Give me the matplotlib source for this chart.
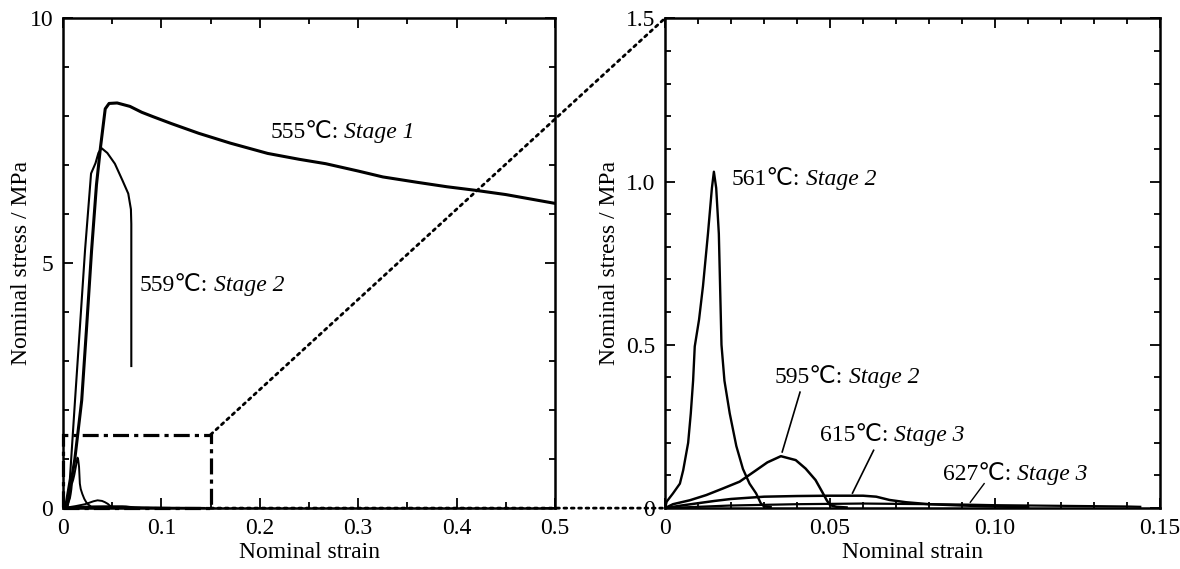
import matplotlib
matplotlib.use("Agg")
import matplotlib.pyplot as plt
from matplotlib.patches import Rectangle, ConnectionPatch
from matplotlib.ticker import MultipleLocator

plt.rcParams['font.family'] = ['Liberation Serif', 'DejaVu Sans']
plt.rcParams['font.size'] = 17

# --- данные ---
# 555°C: Stage 1
c555_x = [0.004, 0.012, 0.019, 0.024, 0.029, 0.034, 0.038, 0.0429, 0.0468, 0.055, 0.068,
          0.08, 0.0915, 0.11, 0.138, 0.17, 0.208, 0.24, 0.267, 0.3, 0.325, 0.36, 0.39,
          0.418, 0.45, 0.5]
c555_y = [0.0, 1.0, 2.2, 3.7, 5.25, 6.6, 7.35, 8.15, 8.26, 8.27, 8.2,
          8.08, 7.99, 7.85, 7.65, 7.45, 7.24, 7.12, 7.03, 6.88, 6.76, 6.65, 6.56,
          6.49, 6.4, 6.22]

# 559°C: Stage 2
c559_x = [0.002, 0.007, 0.0122, 0.0172, 0.0224, 0.0285, 0.033, 0.036, 0.039, 0.045,
          0.0527, 0.0604, 0.0663, 0.069, 0.0694, 0.0694]
c559_y = [0.0, 0.6, 2.2, 3.7, 5.27, 6.83, 7.04, 7.25, 7.35, 7.25,
          7.03, 6.69, 6.42, 6.1, 5.8, 2.9]

# 561°C: Stage 2
c561_x = [0.0, 0.0005, 0.0024, 0.0045, 0.0055, 0.007, 0.0078, 0.0085, 0.009, 0.0103,
          0.0115, 0.013, 0.0142, 0.0148, 0.0155, 0.0163, 0.0171, 0.018, 0.0196, 0.0216,
          0.0236, 0.0256, 0.0276, 0.029, 0.030, 0.032]
c561_y = [0.0, 0.02, 0.045, 0.075, 0.116, 0.2, 0.29, 0.39, 0.495, 0.577,
          0.68, 0.84, 0.98, 1.03, 0.98, 0.84, 0.5, 0.39, 0.29, 0.19,
          0.12, 0.075, 0.045, 0.015, 0.005, 0.003]

# 595°C: Stage 2
c595_x = [0.0, 0.0024, 0.0075, 0.0125, 0.0175, 0.0226, 0.0276, 0.031, 0.0351, 0.0396,
          0.0426, 0.0456, 0.0476, 0.049, 0.050, 0.052, 0.055]
c595_y = [0.0, 0.012, 0.024, 0.04, 0.06, 0.081, 0.116, 0.14, 0.159, 0.147,
          0.121, 0.086, 0.05, 0.024, 0.009, 0.004, 0.002]

# 615°C: Stage 3
c615_x = [0.0, 0.005, 0.01, 0.015, 0.02, 0.03, 0.04, 0.05, 0.06, 0.064, 0.068, 0.073,
          0.08, 0.09, 0.1, 0.11]
c615_y = [0.0, 0.008, 0.015, 0.022, 0.028, 0.035, 0.037, 0.038, 0.038, 0.035, 0.025, 0.018,
          0.012, 0.008, 0.005, 0.003]

# 627°C: Stage 3
c627_x = [0.0, 0.01, 0.02, 0.03, 0.04, 0.05, 0.06, 0.07, 0.08, 0.09, 0.1, 0.11, 0.12,
          0.13, 0.14, 0.144]
c627_y = [0.0, 0.004, 0.008, 0.01, 0.012, 0.013, 0.014, 0.013, 0.012, 0.011, 0.009, 0.008,
          0.007, 0.006, 0.005, 0.004]

left_xticks = [0, 0.1, 0.2, 0.3, 0.4, 0.5]
left_xlabels = ['0', '0.1', '0.2', '0.3', '0.4', '0.5']
left_yticks = [0, 5, 10]
left_ylabels = ['0', '5', '10']
right_xticks = [0, 0.05, 0.10, 0.15]
right_xlabels = ['0', '0.05', '0.10', '0.15']
right_yticks = [0, 0.5, 1.0, 1.5]
right_ylabels = ['0', '0.5', '1.0', '1.5']

fig = plt.figure(figsize=(11.8, 5.69), dpi=100)
ax1 = fig.add_axes([0.0534, 0.107, 0.417, 0.861])
ax2 = fig.add_axes([0.5636, 0.107, 0.4195, 0.861])


def style_axes(ax, ypad):
    for s in ax.spines.values():
        s.set_linewidth(1.8)
    ax.tick_params(which='both', direction='in', top=True, right=True, width=1.3, pad=7)
    ax.tick_params(which='major', length=7)
    ax.tick_params(which='minor', length=4.5)
    ax.set_xlabel('Nominal strain', labelpad=2)
    ax.set_ylabel('Nominal stress / MPa', labelpad=ypad)


def stage_label(ax, x, y, temp, stage):
    # "555℃:" прямым шрифтом, "Stage 1" курсивом сразу за ним
    t = ax.text(x, y, f'{temp}℃:', va='center', ha='left')
    ax.annotate(stage, xy=(1, 0), xycoords=t, xytext=(4, 0), textcoords='offset points',
                va='bottom', ha='left', style='italic', family='Liberation Serif')


# --- левый график ---
ax1.plot(c555_x, c555_y, color='black', lw=2.2)
ax1.plot(c559_x, c559_y, color='black', lw=1.5)
for cx, cy in [(c561_x, c561_y), (c595_x, c595_y), (c615_x, c615_y), (c627_x, c627_y)]:
    ax1.plot(cx, cy, color='black', lw=1.4)

ax1.add_patch(Rectangle((0, 0), 0.15, 1.5, fill=False, edgecolor='black', lw=2.3,
                        linestyle=(0, (5.0, 1.6, 1.3, 1.6)), clip_on=False, zorder=3))

ax1.set_xlim(0, 0.5)
ax1.set_ylim(0, 10)
ax1.set_xticks(left_xticks, left_xlabels)
ax1.set_yticks(left_yticks, left_ylabels)
ax1.xaxis.set_minor_locator(MultipleLocator(0.05))
ax1.yaxis.set_minor_locator(MultipleLocator(1))
style_axes(ax1, -2)

stage_label(ax1, 0.211, 7.67, 555, 'Stage 1')
stage_label(ax1, 0.078, 4.55, 559, 'Stage 2')

# --- правый график ---
ax2.plot(c561_x, c561_y, color='black', lw=1.7)
ax2.plot(c595_x, c595_y, color='black', lw=1.8)
ax2.plot(c615_x, c615_y, color='black', lw=1.8)
ax2.plot(c627_x, c627_y, color='black', lw=1.6)

ax2.set_xlim(0, 0.15)
ax2.set_ylim(0, 1.5)
ax2.set_xticks(right_xticks, right_xlabels)
ax2.set_yticks(right_yticks, right_ylabels)
ax2.xaxis.set_minor_locator(MultipleLocator(0.01))
ax2.yaxis.set_minor_locator(MultipleLocator(0.1))
style_axes(ax2, 4)

stage_label(ax2, 0.0202, 1.006, 561, 'Stage 2')
stage_label(ax2, 0.0333, 0.40, 595, 'Stage 2')
stage_label(ax2, 0.047, 0.223, 615, 'Stage 3')
stage_label(ax2, 0.0842, 0.104, 627, 'Stage 3')

# выноски
ax2.plot([0.0409, 0.0355], [0.355, 0.172], color='black', lw=1.2)
ax2.plot([0.0632, 0.0568], [0.177, 0.046], color='black', lw=1.2)
ax2.plot([0.0967, 0.0925], [0.075, 0.018], color='black', lw=1.0)

# пунктирные линии увеличения
for ya, yb in [(1.5, 1.5), (0, 0)]:
    con = ConnectionPatch(xyA=(0.15, ya), coordsA=ax1.transData,
                          xyB=(0, yb), coordsB=ax2.transData,
                          linestyle=':', lw=2.0, color='black', zorder=5)
    fig.add_artist(con)

fig.savefig('out.png', dpi=100)
